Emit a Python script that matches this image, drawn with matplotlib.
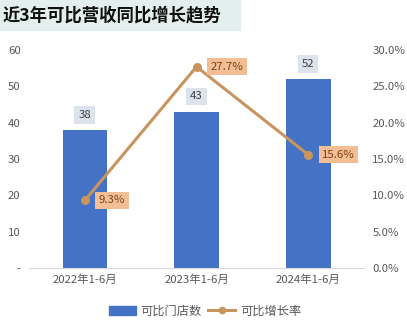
import matplotlib.pyplot as plt
import matplotlib.patches as mpatches
from matplotlib.lines import Line2D

plt.rcParams['font.family'] = ['Noto Sans CJK SC', 'DejaVu Sans']

# data
periods = ["2022年1-6月", "2023年1-6月", "2024年1-6月"]
stores = [38, 43, 52]
growth = [9.3, 27.7, 15.6]
left_ticks = [0, 10, 20, 30, 40, 50, 60]
left_labels = ["-", "10", "20", "30", "40", "50", "60"]
right_ticks = [0, 5, 10, 15, 20, 25, 30]

bar_color = "#4472C4"
line_color = "#C8955F"
tick_color = "#595959"

fig = plt.figure(figsize=(4.07, 3.22), dpi=100)

# title band
fig.patches.append(mpatches.Rectangle((0, 1 - 30 / 322), 240 / 407, 30 / 322,
                                      transform=fig.transFigure, color="#E3EFED", zorder=0))
fig.text(3 / 407, 1 - 15 / 322, "近3年可比营收同比增长趋势", fontsize=12.5,
         fontweight="bold", color="#111111", va="center", ha="left")

ax = fig.add_axes([29 / 407, 1 - 268 / 322, (364 - 29) / 407, (268 - 50) / 322])
x = list(range(len(periods)))
ax.bar(x, stores, width=0.4, color=bar_color, zorder=2)
ax.set_xlim(-0.5, 2.5)
ax.set_ylim(0, 60)
ax.set_yticks(left_ticks)
ax.set_yticklabels(left_labels)
ax.set_xticks(x)
ax.set_xticklabels(periods)
for s in ["top", "right", "left"]:
    ax.spines[s].set_visible(False)
ax.spines["bottom"].set_color("#D9D9D9")
ax.tick_params(axis="both", length=0, labelsize=8.2, colors=tick_color)
ax.tick_params(axis="y", pad=6)
ax.tick_params(axis="x", pad=5)

for xi, v in zip(x, stores):
    ax.annotate(str(v), (xi, v), xytext=(0, 11), textcoords="offset points",
                ha="center", va="center", fontsize=8.2, color="#404040",
                bbox=dict(boxstyle="square,pad=0.35", fc="#DDE3EC", ec="none"))

ax2 = ax.twinx()
ax2.plot(x, growth, color=line_color, lw=2.2, marker="o", ms=5.5, zorder=3)
ax2.set_ylim(0, 30)
ax2.set_yticks(right_ticks)
ax2.set_yticklabels([f"{t:.1f}%" for t in right_ticks])
for s in ["top", "right", "left", "bottom"]:
    ax2.spines[s].set_visible(False)
ax2.tick_params(axis="y", length=0, labelsize=8.2, colors=tick_color, pad=6)

for xi, v in zip(x, growth):
    ax2.annotate(f"{v}%", (xi, v), xytext=(10, 0), textcoords="offset points",
                 ha="left", va="center", fontsize=8.2, color="#7F3F10",
                 bbox=dict(boxstyle="square,pad=0.3", fc="#F2BE95", ec="none"))

handles = [mpatches.Patch(color=bar_color),
           Line2D([], [], color=line_color, lw=2.2, marker="o", ms=4.5)]
fig.legend(handles, ["可比门店数", "可比增长率"], loc="center", ncol=2,
           bbox_to_anchor=(205 / 407, 1 - 311 / 322), frameon=False, fontsize=8.8,
           labelcolor=tick_color, handlelength=2.2, columnspacing=0.5, handletextpad=0.4)

fig.savefig("out.png", dpi=100)
